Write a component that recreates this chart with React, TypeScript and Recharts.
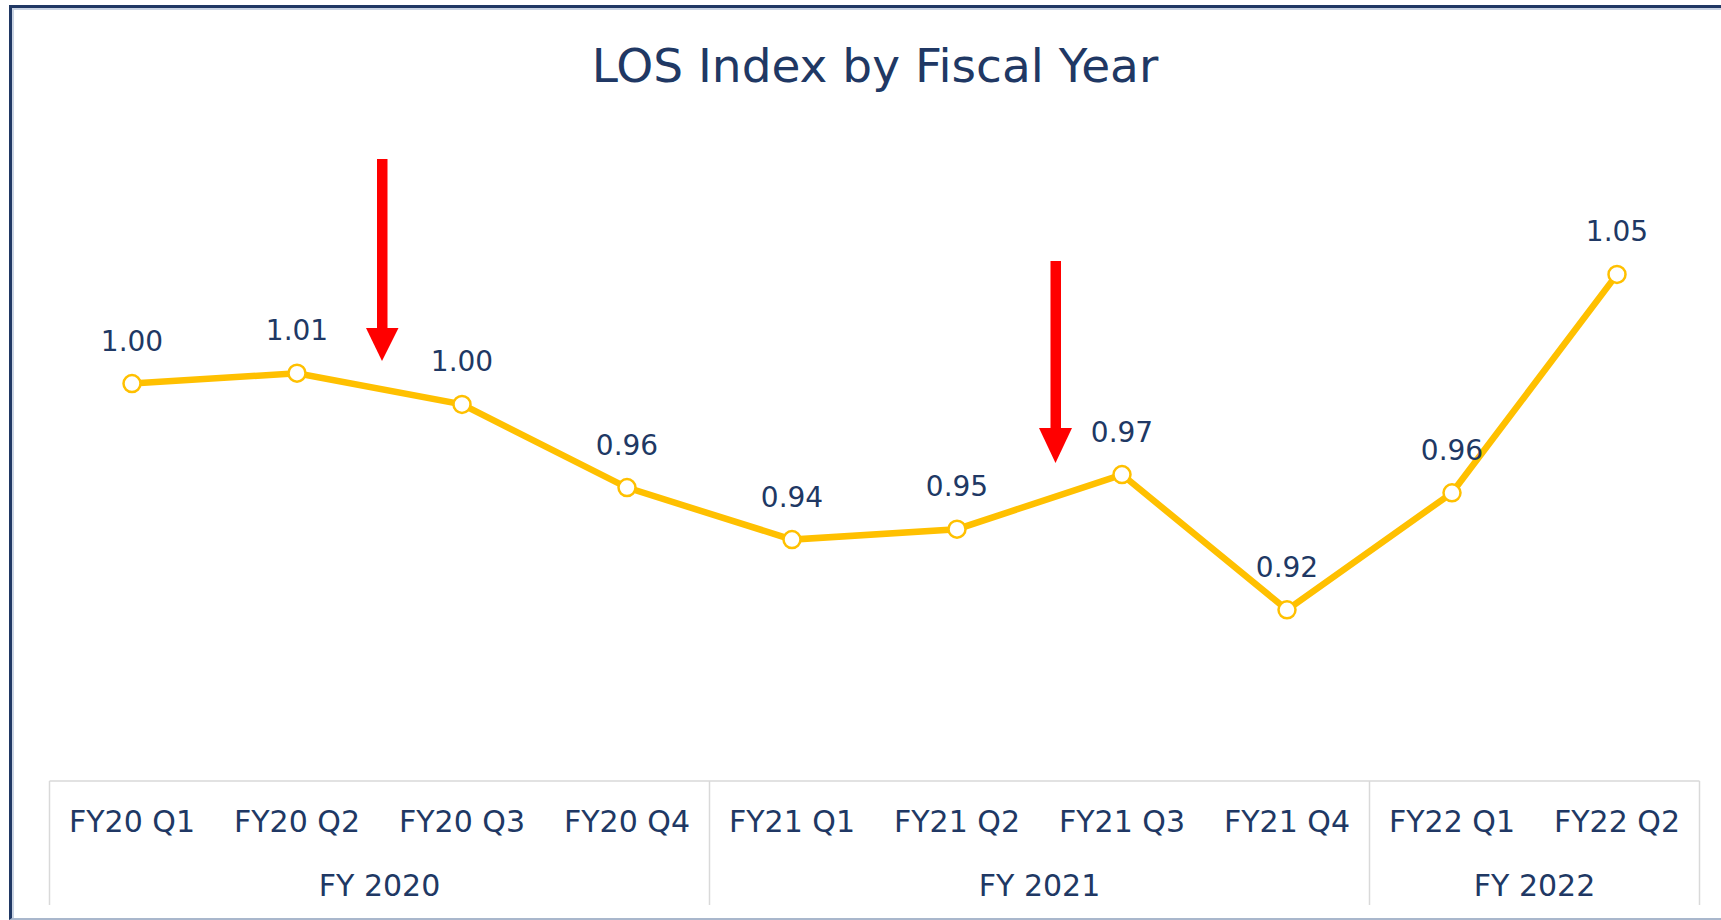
import React from "react";
import { LineChart, Line, XAxis, YAxis } from "recharts";

const quarters = [
  "FY20 Q1",
  "FY20 Q2",
  "FY20 Q3",
  "FY20 Q4",
  "FY21 Q1",
  "FY21 Q2",
  "FY21 Q3",
  "FY21 Q4",
  "FY22 Q1",
  "FY22 Q2",
];
const losIndex = [1.004, 1.008, 0.996, 0.964, 0.944, 0.948, 0.969, 0.917, 0.962, 1.046];
const fiscalYears = ["FY 2020", "FY 2021", "FY 2022"];
const quartersPerYear = [4, 4, 2];

const W = 1721;
const H = 920;
const MARGIN = { top: 134, right: 21.5, bottom: 36, left: 49.5 };
const BAND = (W - MARGIN.left - MARGIN.right) / quarters.length;

const NAVY = "#203864";
const GOLD = "#ffc000";
const GRID = "#d9d9d9";
const FONT = "'DejaVu Sans', sans-serif";

const data = quarters.map((q, i) => ({ quarter: q, value: losIndex[i] }));

// index where each fiscal year starts
const groupStarts: number[] = [];
quartersPerYear.reduce((acc, n) => {
  groupStarts.push(acc);
  return acc + n;
}, 0);

function AxisTick(props: any) {
  const { x, y, payload } = props;
  const i = payload.index;
  const left = x - BAND / 2;
  const g = groupStarts.indexOf(i);
  return (
    <g>
      {i === 0 && (
        <line x1={left} x2={left + BAND * quarters.length} y1={y - 3} y2={y - 3} stroke={GRID} strokeWidth={1.5} />
      )}
      {g >= 0 && <line x1={left} x2={left} y1={y - 3} y2={y + 121} stroke={GRID} strokeWidth={1.5} />}
      {i === quarters.length - 1 && (
        <line x1={x + BAND / 2} x2={x + BAND / 2} y1={y - 3} y2={y + 121} stroke={GRID} strokeWidth={1.5} />
      )}
      <text x={x} y={y + 48} textAnchor="middle" fill={NAVY} fontSize={30} fontFamily={FONT}>
        {payload.value}
      </text>
      {g >= 0 && (
        <text
          x={left + (BAND * quartersPerYear[g]) / 2}
          y={y + 112}
          textAnchor="middle"
          fill={NAVY}
          fontSize={30}
          fontFamily={FONT}
        >
          {fiscalYears[g]}
        </text>
      )}
    </g>
  );
}

function ValueLabel(props: any) {
  const { x, y, value } = props;
  return (
    <text x={x} y={y - 33} textAnchor="middle" fill={NAVY} fontSize={28} fontFamily={FONT}>
      {Number(value).toFixed(2)}
    </text>
  );
}

export default function App() {
  return (
    <div style={{ position: "absolute", left: 0, top: 0, width: W, height: H, background: "#fff", overflow: "hidden" }}>
      <div
        style={{
          position: "absolute",
          left: 9,
          top: 5,
          width: W - 9 - 3,
          height: H - 5 - 5,
          borderLeft: `3px solid ${NAVY}`,
          borderTop: `3px solid ${NAVY}`,
          borderBottom: "2px solid #a9b7cc",
          boxShadow: "inset 2px 2px 0 #c9d3e2",
        }}
      />
      <div style={{ position: "absolute", left: 0, top: 0 }}>
        <LineChart width={W} height={H} data={data} margin={MARGIN}>
          <XAxis
            dataKey="quarter"
            height={100}
            axisLine={false}
            tickLine={false}
            tickSize={0}
            tickMargin={0}
            interval={0}
            padding={{ left: BAND / 2, right: BAND / 2 }}
            tick={(p: any) => <AxisTick {...p} />}
          />
          <YAxis hide domain={[0.85, 1.1]} />
          <Line
            type="linear"
            dataKey="value"
            stroke={GOLD}
            strokeWidth={6.5}
            dot={{ r: 8.5, fill: "#fff", stroke: GOLD, strokeWidth: 2.5 }}
            activeDot={false}
            label={(p: any) => <ValueLabel {...p} />}
            isAnimationActive={false}
          />
        </LineChart>
      </div>
      <svg width={W} height={H} style={{ position: "absolute", left: 0, top: 0, pointerEvents: "none" }}>
        <text x={875} y={82} textAnchor="middle" fill={NAVY} fontSize={47} fontFamily={FONT}>
          LOS Index by Fiscal Year
        </text>
        <g fill="#ff0000">
          <rect x={377} y={159} width={10.5} height={170} />
          <polygon points="366,328 398.5,328 382,361" />
          <rect x={1050.5} y={261} width={10.5} height={168} />
          <polygon points="1039,428 1072,428 1055.5,463" />
        </g>
      </svg>
    </div>
  );
}
